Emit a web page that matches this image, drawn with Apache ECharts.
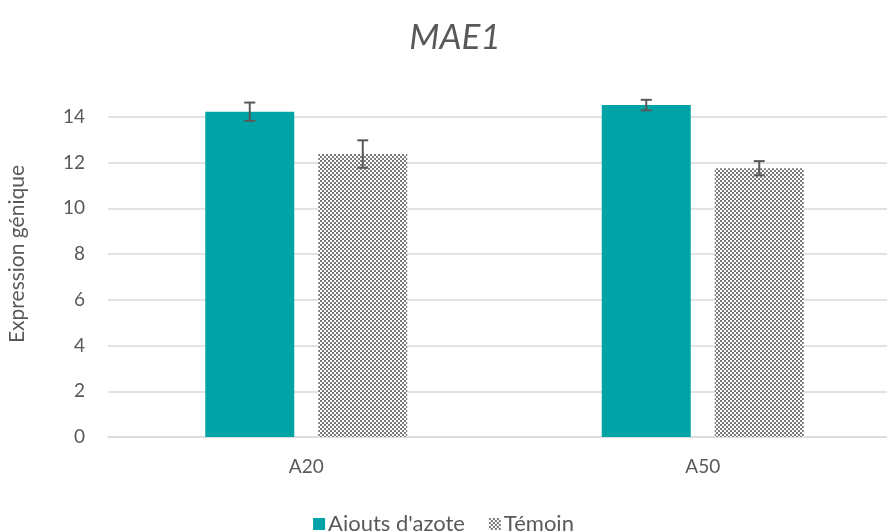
<!DOCTYPE html>
<html>
<head>
<meta charset="utf-8">
<script src="https://cdn.jsdelivr.net/npm/echarts@6/dist/echarts.min.js"></script>
<style>
  html, body { margin: 0; padding: 0; background: #fff; }
  #chart { width: 887px; height: 531px; }
</style>
</head>
<body>
<div id="chart"></div>
<script>
// Data
const categories = ['A20', 'A50'];
const ajouts = [14.22, 14.51];
const ajoutsErr = [0.40, 0.23];
const temoin = [12.37, 11.75];
const temoinErr = [0.60, 0.31];
const yTicks = [0, 2, 4, 6, 8, 10, 12, 14];

const FONT = 'Lato, "Open Sans", sans-serif';
const BAR_W = 89;
const BAR_GAP = 24;

// checker pattern for Témoin
function makeChecker() {
    const c = document.createElement('canvas');
    c.width = 4; c.height = 4;
    const ctx = c.getContext('2d');
    ctx.fillStyle = '#ffffff';
    ctx.fillRect(0, 0, 4, 4);
    ctx.fillStyle = '#7a7a7a';
    ctx.fillRect(0, 0, 2, 2);
    ctx.fillRect(2, 2, 2, 2);
    return c;
}
const checker = { image: makeChecker(), repeat: 'repeat' };

function errorItem(vals, errs, side) {
    return function(params, api) {
        const i = api.value(0);
        const shift = side * (BAR_W + BAR_GAP) / 2;
        const hi = api.coord([i, vals[i] + errs[i]]);
        const lo = api.coord([i, vals[i] - errs[i]]);
        const x = hi[0] + shift;
        const cap = 5.5;
        const style = { stroke: '#595959', lineWidth: 2 };
        return {
            type: 'group',
            children: [
                { type: 'line', shape: { x1: x, y1: hi[1], x2: x, y2: lo[1] }, style: style },
                { type: 'line', shape: { x1: x - cap, y1: hi[1], x2: x + cap, y2: hi[1] }, style: style },
                { type: 'line', shape: { x1: x - cap, y1: lo[1], x2: x + cap, y2: lo[1] }, style: style }
            ]
        };
    };
}

const chart = echarts.init(document.getElementById('chart'));
chart.setOption({
    animation: false,
    backgroundColor: '#ffffff',
    title: {
        text: 'MAE1',
        left: 450,
        top: 15,
        textAlign: 'center',
        textStyle: { fontFamily: FONT, fontSize: 35, fontStyle: 'italic', fontWeight: 'normal', color: '#595959' }
    },
    legend: {
        top: 508,
        left: 'center',
        itemWidth: 12,
        itemHeight: 12,
        itemGap: 24,
        icon: 'rect',
        textStyle: { fontFamily: FONT, fontSize: 22, color: '#595959', padding: [0, 0, 0, -2] },
        data: ["Ajouts d'azote", 'Témoin']
    },
    grid: { left: 108, width: 793, top: 71, bottom: 94, outerBoundsMode: 'none', containLabel: false },
    xAxis: {
        type: 'category',
        data: categories,
        axisLine: { lineStyle: { color: '#d9d9d9', width: 1.5 } },
        axisTick: { show: false },
        axisLabel: { fontFamily: FONT, fontSize: 19, color: '#595959', margin: 20 }
    },
    yAxis: {
        type: 'value',
        min: 0,
        max: 16,
        interval: 2,
        name: 'Expression génique',
        nameLocation: 'middle',
        nameGap: 80,
        nameTextStyle: { fontFamily: FONT, fontSize: 21, color: '#595959' },
        axisLine: { show: false },
        axisTick: { show: false },
        axisLabel: {
            fontFamily: FONT, fontSize: 19, color: '#595959', margin: 23, showMaxLabel: false,
            formatter: function(v) { return yTicks.indexOf(v) >= 0 ? String(v) : ''; }
        },
        splitLine: { showMaxLine: false, lineStyle: { color: '#d9d9d9', width: 1.5 } }
    },
    series: [
        {
            name: "Ajouts d'azote",
            type: 'bar',
            data: ajouts,
            barWidth: BAR_W,
            barGap: (BAR_GAP / BAR_W * 100) + '%',
            itemStyle: { color: '#00a3a6' }
        },
        {
            name: 'Témoin',
            type: 'bar',
            data: temoin,
            barWidth: BAR_W,
            itemStyle: { color: checker }
        },
        {
            type: 'custom',
            renderItem: errorItem(ajouts, ajoutsErr, -1),
            data: categories.map((c, i) => [i]),
            z: 10,
            silent: true
        },
        {
            type: 'custom',
            renderItem: errorItem(temoin, temoinErr, 1),
            data: categories.map((c, i) => [i]),
            z: 10,
            silent: true
        }
    ]
});
</script>
</body>
</html>
